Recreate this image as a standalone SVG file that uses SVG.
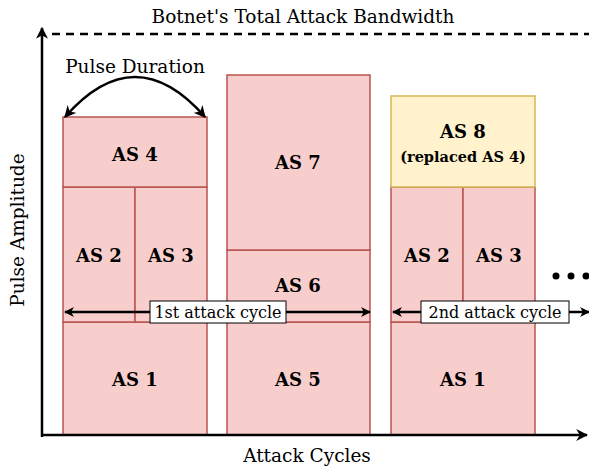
<svg xmlns="http://www.w3.org/2000/svg" width="589" height="470" viewBox="0 0 589 470">
<defs>
<marker id="ah" viewBox="0 0 10 10" refX="9" refY="5" markerWidth="10" markerHeight="10" markerUnits="userSpaceOnUse" orient="auto-start-reverse">
<path d="M0,0 L10,5 L0,10 L3,5 Z" fill="#000"/>
</marker>
<marker id="ahs" viewBox="0 0 10 10" refX="9" refY="5" markerWidth="12" markerHeight="12" markerUnits="userSpaceOnUse" orient="auto-start-reverse">
<path d="M0,0 L10,5 L0,10 L3,5 Z" fill="#000"/>
</marker>
</defs>
<style>
.t{font-family:"DejaVu Serif","Liberation Serif",serif;fill:#000}
.lbl{font-size:18.5px;text-anchor:middle}
.cyc{font-size:16px;text-anchor:middle}
.as{font-size:18px;font-weight:bold;text-anchor:middle}
.red{fill:#f8cecc;stroke:#b85450;stroke-width:1.5}
.yel{fill:#fff2cc;stroke:#d6b656;stroke-width:1.5}
.ln{fill:none;stroke:#000;stroke-width:2.5}
</style>
<rect width="589" height="470" fill="#fff"/>
<g id="node-as1a"><rect class="red" x="63" y="322" width="144" height="113"/><text class="t as" x="135" y="386">AS 1</text></g>
<g id="node-as2a"><rect class="red" x="63" y="187" width="72" height="135"/><text class="t as" x="99" y="262">AS 2</text></g>
<g id="node-as3a"><rect class="red" x="135" y="187" width="72" height="135"/><text class="t as" x="171" y="262">AS 3</text></g>
<g id="node-as4"><rect class="red" x="63" y="117" width="144" height="70"/><text class="t as" x="135" y="161">AS 4</text></g>
<g id="node-as5"><rect class="red" x="227" y="322" width="143" height="113"/><text class="t as" x="298" y="386">AS 5</text></g>
<g id="node-as6"><rect class="red" x="227" y="250" width="143" height="72"/><text class="t as" x="298" y="292">AS 6</text></g>
<g id="node-as7"><rect class="red" x="227" y="75" width="143" height="175"/><text class="t as" x="298" y="169">AS 7</text></g>
<g id="node-as1b"><rect class="red" x="391" y="322" width="144" height="113"/><text class="t as" x="463" y="386">AS 1</text></g>
<g id="node-as2b"><rect class="red" x="391" y="187" width="72" height="135"/><text class="t as" x="427" y="262">AS 2</text></g>
<g id="node-as3b"><rect class="red" x="463" y="187" width="72" height="135"/><text class="t as" x="499" y="262">AS 3</text></g>
<g id="node-as8"><rect class="yel" x="391" y="96" width="144" height="91"/><text class="t as" x="463" y="138">AS 8</text><text class="t" x="463" y="162" font-size="14.5" font-weight="bold" text-anchor="middle">(replaced AS 4)</text></g>
<g id="connectors">
<line class="ln" x1="42" y1="437" x2="42" y2="28" marker-end="url(#ahs)"/>
<line class="ln" x1="41" y1="435" x2="587" y2="435" marker-end="url(#ahs)"/>
<line x1="52" y1="34" x2="589" y2="34" stroke="#000" stroke-width="2.5" stroke-dasharray="8,6"/>
<path class="ln" d="M65,117 Q135,37 205,117" marker-start="url(#ahs)" marker-end="url(#ahs)"/>
<line class="ln" x1="65" y1="312" x2="370" y2="312" marker-start="url(#ah)" marker-end="url(#ah)"/>
<line class="ln" x1="393" y1="312" x2="589" y2="312" marker-start="url(#ah)" marker-end="url(#ah)"/>
</g>
<g id="label-cycle1"><rect x="150" y="301" width="136" height="22" fill="#fff" stroke="#000" stroke-width="1"/><text class="t cyc" x="218" y="318">1st attack cycle</text></g>
<g id="label-cycle2"><rect x="421" y="301" width="148" height="22" fill="#fff" stroke="#000" stroke-width="1"/><text class="t cyc" x="495" y="318">2nd attack cycle</text></g>
<g id="dots"><circle cx="556" cy="276" r="3.5"/><circle cx="571" cy="276" r="3.5"/><circle cx="586" cy="276" r="3.5"/></g>
<text class="t lbl" x="303" y="23">Botnet's Total Attack Bandwidth</text>
<text class="t lbl" x="135" y="73">Pulse Duration</text>
<text class="t lbl" x="307" y="462">Attack Cycles</text>
<text class="t lbl" transform="translate(24,230) rotate(-90)">Pulse Amplitude</text>
</svg>
